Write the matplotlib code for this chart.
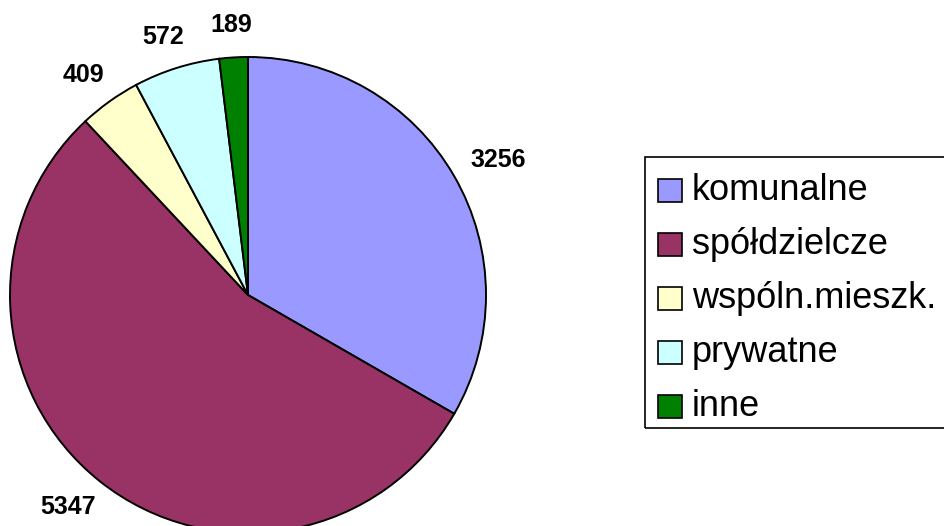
import numpy as np
import matplotlib
matplotlib.use("Agg")
import matplotlib.pyplot as plt
import matplotlib.patches as patches

plt.rcParams['font.family'] = ['Liberation Sans', 'DejaVu Sans']

# data
categories = ["komunalne", "spółdzielcze", "wspóln.mieszk.", "prywatne", "inne"]
values = [3256, 5347, 409, 572, 189]
colors = ["#9999FF", "#993366", "#FFFFCC", "#CCFFFF", "#008000"]

W, H = 944, 526
fig = plt.figure(figsize=(W / 100, H / 100), dpi=100)

# pie axes in pixel units (centre ~ (248,295), radius ~238)
cx, cy, r = 248, 295, 238
ax = fig.add_axes([(cx - r) / W, (H - cy - r) / H, 2 * r / W, 2 * r / H])
wedges, texts = ax.pie(
    values, colors=colors, startangle=90, counterclock=False, radius=1,
    wedgeprops=dict(edgecolor="black", linewidth=1.4))
ax.set_xlim(-1, 1)
ax.set_ylim(-1, 1)
ax.set_aspect("equal")
ax.axis("off")

# value labels placed outside, Excel-like (gap from rim + half box size)
renderer = fig.canvas.get_renderer()
gap = 23.5 / r
for w, v in zip(wedges, values):
    ang = np.deg2rad((w.theta1 + w.theta2) / 2)
    t = ax.text(0, 0, str(v), fontsize=18, fontweight="bold",
                ha="center", va="center", clip_on=False)
    bb = t.get_window_extent(renderer)
    hw = bb.width / 2 / r
    hh = bb.height / 2 / r * 0.75
    x = (1 + gap) * np.cos(ang) + hw * np.cos(ang)
    y = (1 + gap) * np.sin(ang) + hh * np.sin(ang)
    t.set_position((x, y))

# legend box (cut off on the right like the original)
fig.patches.append(patches.Rectangle((645 / W, (H - 428) / H), 400 / W, (428 - 157) / H,
                                     transform=fig.transFigure, fill=False,
                                     edgecolor="black", linewidth=1.2))
for i, (lab, col) in enumerate(zip(categories, colors)):
    yc = 190 + i * 54
    fig.patches.append(patches.Rectangle((658 / W, (H - yc - 11.5) / H), 24 / W, 23 / H,
                                         transform=fig.transFigure, facecolor=col,
                                         edgecolor="black", linewidth=1.2))
    fig.text(692 / W, (H - yc) / H, lab, fontsize=26, va="center", ha="left")

fig.savefig("out.png", dpi=100)
